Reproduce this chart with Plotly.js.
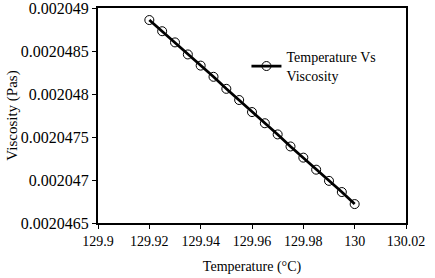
<!DOCTYPE html>
<html><head><meta charset="utf-8">
<script src="https://cdn.plot.ly/plotly-3.0.1.min.js"></script>
<style>html,body{margin:0;padding:0;background:#fff}#c{width:435px;height:278px}</style>
</head><body><div id="c"></div>
<script>
const temperature = [129.92,129.925,129.93,129.935,129.94,129.945,129.95,129.955,129.96,129.965,129.97,129.975,129.98,129.985,129.99,129.995,130];
const viscosity = [0.00204886,0.00204873,0.00204860,0.00204846,0.00204833,0.00204820,0.00204806,0.00204793,0.00204779,0.00204766,0.00204753,0.00204739,0.00204726,0.00204712,0.00204699,0.00204686,0.00204672];
const seriesName = 'Temperature Vs<br>Viscosity';
const xTicks = [129.9,129.92,129.94,129.96,129.98,130,130.02];
const xTickText = ['129.9','129.92','129.94','129.96','129.98','130','130.02'];
const yTicks = [0.0020465,0.002047,0.0020475,0.002048,0.0020485,0.002049];
const yTickText = ['0.0020465','0.002047','0.0020475','0.002048','0.0020485','0.002049'];

const fam = 'Liberation Serif, Times New Roman, serif';
const f = (s) => ({family:fam, size:s, color:'#000'});
Plotly.newPlot('c', [{
  x: temperature, y: viscosity, name: seriesName, type:'scatter', mode:'lines+markers',
  line:{color:'#000', width:2.8},
  marker:{symbol:'circle-open', size:9, color:'#000', line:{width:1, color:'#000'}},
  showlegend:true
}], {
  width:435, height:278,
  margin:{l:98, r:29, t:8, b:55},
  paper_bgcolor:'#fff', plot_bgcolor:'#fff',
  font: f(14),
  showlegend:true,
  legend:{x:0.482, y:0.845, xanchor:'left', yanchor:'top', bgcolor:'rgba(0,0,0,0)', font:f(14), itemwidth:30},
  xaxis:{range:[129.9,130.02], tickvals:xTicks, ticktext:xTickText, ticks:'outside', ticklen:4, tickwidth:1, tickcolor:'#000',
    tickfont:f(14), ticklabeloverflow:'allow',
    showline:true, linecolor:'#000', linewidth:2, mirror:true, showgrid:false, zeroline:false,
    title:{text:'Temperature (°C)', font:f(14), standoff:13}},
  yaxis:{range:[0.0020465,0.002049], tickvals:yTicks, ticktext:yTickText, ticks:'outside', ticklen:4, tickwidth:1, tickcolor:'#000',
    tickfont:f(16), ticklabeloverflow:'allow',
    showline:true, linecolor:'#000', linewidth:2, mirror:true, showgrid:false, zeroline:false,
    title:{text:'Viscosity (Pas)', font:f(15), standoff:0}}
}, {displayModeBar:false, staticPlot:true});
</script></body></html>
